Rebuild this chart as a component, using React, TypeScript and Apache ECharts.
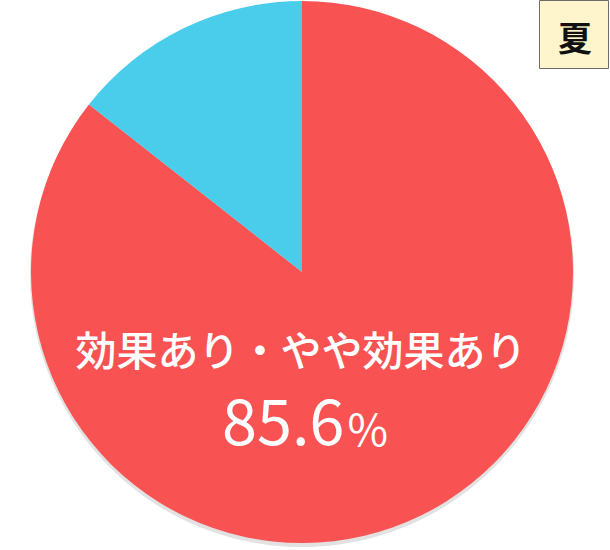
import React, { useEffect, useRef } from 'react';
import * as echarts from 'echarts';

// 円グラフ 夏
const categories = ['効果あり・やや効果あり', 'その他'];
const values = [85.6, 14.4];
const seasonLabel = '夏';

const App: React.FC = () => {
    const chartRef = useRef<HTMLDivElement>(null);

    useEffect(() => {
        if (!chartRef.current) return;
        const chart = echarts.init(chartRef.current, null, { renderer: 'svg' });
        const font = '"Noto Sans CJK JP", "Noto Sans", sans-serif';
        const options = {
            animation: false,
            color: ['#F85253', '#4ACDEB'],
            graphic: [
                // 影
                {
                    type: 'circle',
                    z: 0,
                    shape: { cx: 302, cy: 275, r: 272 },
                    style: { fill: '#e2e2e2' },
                },
                {
                    type: 'rect',
                    z: 10,
                    shape: { x: 539.5, y: 0.5, width: 69, height: 68 },
                    style: { fill: '#FFF5CC', stroke: '#6b6b6b', lineWidth: 1 },
                },
                {
                    type: 'text',
                    z: 11,
                    x: 575,
                    y: 36,
                    style: {
                        text: seasonLabel,
                        font: 'bold 34px ' + font,
                        fill: '#111',
                        align: 'center',
                        verticalAlign: 'middle',
                    },
                },
                {
                    type: 'text',
                    z: 11,
                    x: 301,
                    y: 348,
                    style: {
                        text: categories[0],
                        font: '500 41px ' + font,
                        fill: '#fff',
                        align: 'center',
                        verticalAlign: 'middle',
                    },
                },
                {
                    type: 'text',
                    z: 11,
                    x: 305,
                    y: 414,
                    style: {
                        text: '{a|' + values[0].toFixed(1) + '}{b|%}',
                        fill: '#fff',
                        align: 'center',
                        verticalAlign: 'middle',
                        rich: {
                            a: { fontSize: 63, fontFamily: font, fill: '#fff', lineHeight: 70, verticalAlign: 'bottom' },
                            b: { fontSize: 44, fontFamily: font, fill: '#fff', lineHeight: 70, verticalAlign: 'bottom', padding: [0, 0, 0, 3] },
                        },
                    },
                },
            ],
            series: [
                {
                    type: 'pie',
                    z: 2,
                    center: [302, 272],
                    radius: 271,
                    startAngle: 90,
                    clockwise: true,
                    silent: true,
                    label: { show: false },
                    labelLine: { show: false },
                    itemStyle: { borderWidth: 0 },
                    data: categories.map((name, i) => ({ name, value: values[i] })),
                },
            ],
        };
        chart.setOption(options);
        return () => {
            chart.dispose();
        };
    }, []);

    return <div ref={chartRef} style={{ width: '610px', height: '550px', position: 'absolute', left: 0, top: 0 }} />;
};

export default App;
